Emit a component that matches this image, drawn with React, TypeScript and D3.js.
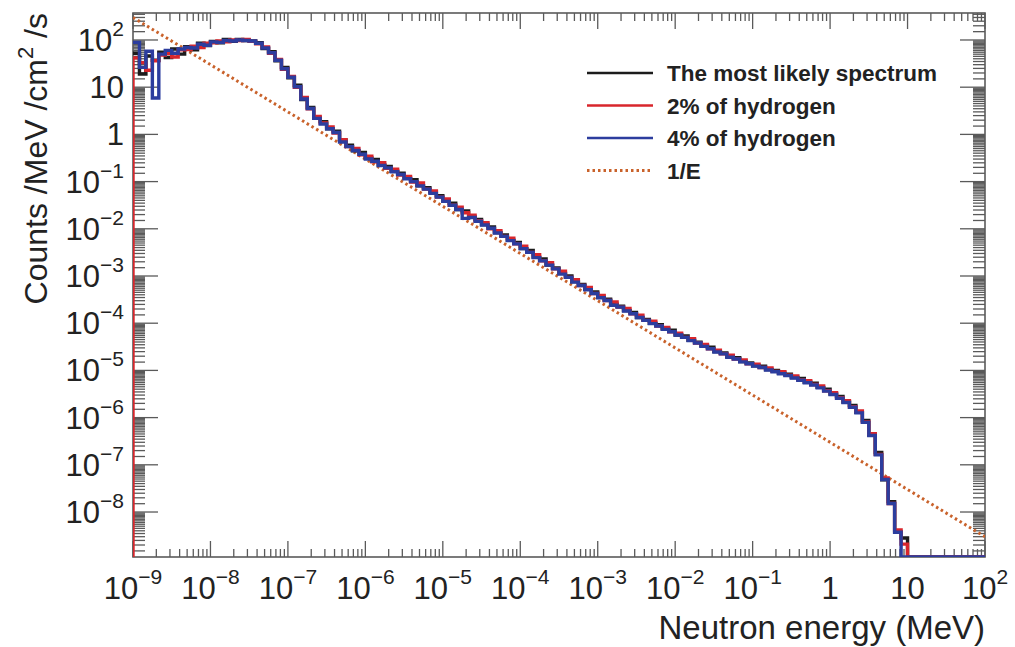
import React from 'react';
import * as d3 from 'd3';

// histogram: 12 log bins per decade starting at 1e-9 MeV, values given as log10(counts)
const BINS_PER_DECADE = 12;
const LOG_E_MIN = -9;
const LOG_E_MAX = 2;

const blackLog = [
  1.72, 1.28, 1.66, 1.57, 1.74, 1.63, 1.81, 1.70, 1.86, 1.79, 1.93, 1.88,
  1.97, 1.94, 2.01, 1.97, 2.01, 1.99, 1.98, 1.94, 1.82, 1.75, 1.56, 1.42,
  1.20, 1.04, 0.74, 0.57, 0.35, 0.27, 0.12, 0.07, -0.12, -0.23, -0.35, -0.38,
  -0.50, -0.53, -0.65, -0.68, -0.78, -0.82, -0.93, -0.96, -1.09, -1.13, -1.22, -1.30,
  -1.41, -1.46, -1.59, -1.62, -1.75, -1.80, -1.91, -1.96, -2.08, -2.13, -2.24, -2.29,
  -2.42, -2.46, -2.60, -2.64, -2.77, -2.83, -2.94, -3.00, -3.12, -3.18, -3.28, -3.34,
  -3.45, -3.49, -3.60, -3.64, -3.73, -3.77, -3.88, -3.92, -4.00, -4.03, -4.12, -4.15,
  -4.25, -4.27, -4.36, -4.40, -4.48, -4.51, -4.60, -4.63, -4.71, -4.73, -4.81, -4.84,
  -4.90, -4.91, -4.98, -5.00, -5.06, -5.08, -5.15, -5.17, -5.25, -5.27, -5.36, -5.40,
  -5.50, -5.55, -5.67, -5.74, -5.89, -6.06, -6.37, -6.74, -7.32, -7.78, -8.42, -8.55,
  null, null, null, null, null, null, null, null, null, null, null, null,
];

const redLog = [
  1.62, 1.52, 1.36, 1.56, 1.68, 1.71, 1.64, 1.79, 1.80, 1.87, 1.84, 1.93,
  1.94, 1.98, 1.96, 2.00, 1.99, 2.01, 1.97, 1.92, 1.85, 1.72, 1.59, 1.38,
  1.23, 1.00, 0.78, 0.54, 0.38, 0.24, 0.16, 0.03, -0.11, -0.26, -0.30, -0.43,
  -0.46, -0.58, -0.60, -0.72, -0.74, -0.86, -0.89, -1.01, -1.03, -1.16, -1.20, -1.33,
  -1.37, -1.50, -1.54, -1.66, -1.71, -1.83, -1.87, -2.00, -2.04, -2.16, -2.20, -2.32,
  -2.37, -2.50, -2.55, -2.68, -2.72, -2.85, -2.90, -3.03, -3.08, -3.20, -3.24, -3.37,
  -3.41, -3.52, -3.55, -3.66, -3.69, -3.80, -3.83, -3.94, -3.96, -4.06, -4.09, -4.18,
  -4.21, -4.30, -4.33, -4.42, -4.45, -4.54, -4.57, -4.65, -4.68, -4.76, -4.78, -4.86,
  -4.87, -4.94, -4.95, -5.02, -5.03, -5.10, -5.12, -5.20, -5.22, -5.30, -5.33, -5.43,
  -5.47, -5.58, -5.64, -5.77, -5.86, -6.09, -6.34, -6.78, -7.28, -7.82, -8.38, -8.68,
  null, null, null, null, null, null, null, null, null, null, null, null,
];

const blueLog = [
  1.95, 1.42, 1.76, 0.77, 1.70, 1.78, 1.72, 1.81, 1.84, 1.83, 1.91, 1.89,
  1.96, 1.95, 1.99, 1.98, 2.00, 1.99, 1.98, 1.93, 1.83, 1.73, 1.57, 1.39,
  1.21, 1.01, 0.75, 0.55, 0.34, 0.22, 0.12, 0.04, -0.16, -0.26, -0.34, -0.42,
  -0.52, -0.57, -0.66, -0.71, -0.79, -0.85, -0.94, -1.00, -1.09, -1.16, -1.25, -1.33,
  -1.42, -1.50, -1.59, -1.78, -1.76, -1.84, -1.92, -1.99, -2.09, -2.16, -2.25, -2.32,
  -2.42, -2.50, -2.61, -2.68, -2.77, -2.85, -2.96, -3.03, -3.13, -3.20, -3.29, -3.37,
  -3.46, -3.52, -3.62, -3.66, -3.74, -3.80, -3.88, -3.94, -4.01, -4.06, -4.13, -4.18,
  -4.25, -4.30, -4.37, -4.42, -4.49, -4.54, -4.61, -4.65, -4.72, -4.76, -4.82, -4.86,
  -4.91, -4.94, -4.99, -5.03, -5.07, -5.11, -5.16, -5.21, -5.26, -5.31, -5.37, -5.44,
  -5.51, -5.59, -5.68, -5.78, -5.90, -6.10, -6.38, -6.79, -7.31, -7.82, -8.43, null,
  null, null, null, null, null, null, null, null, null, null, null, null,
];

// 1/E reference line: norm / E
const oneOverENorm = 3e-7;
const oneOverEEnergies = [1e-9, 1e2];

const xDecades = [-9, -8, -7, -6, -5, -4, -3, -2, -1, 0, 1, 2];
const yDecades = [-8, -7, -6, -5, -4, -3, -2, -1, 0, 1, 2];

const legendItems = [
  { label: 'The most likely spectrum', color: '#1c1c1c', dotted: false },
  { label: '2% of hydrogen', color: '#d8262c', dotted: false },
  { label: '4% of hydrogen', color: '#2c3d9e', dotted: false },
  { label: '1/E', color: '#c9622b', dotted: true },
];

const FONT = "'Liberation Sans', Arial, Helvetica, sans-serif";

const W = 1015;
const H = 647;
const margin = { left: 133, right: 30, top: 13, bottom: 90 };
const plotW = W - margin.left - margin.right;
const plotH = H - margin.top - margin.bottom;

const x = d3.scaleLog().domain([1e-9, 1e2]).range([margin.left, margin.left + plotW]);
const y = d3
  .scaleLog()
  .domain([1.114e-9, 373])
  .range([margin.top + plotH, margin.top])
  .clamp(true);

const yBottom = margin.top + plotH;

function histPath(vals: (number | null)[], fromBottom: boolean) {
  const edge = (i: number) => Math.pow(10, LOG_E_MIN + i / BINS_PER_DECADE);
  const yv = (v: number | null) => (v === null ? yBottom : y(Math.pow(10, v)));
  let d = `M${x(edge(0))},${fromBottom ? yBottom : yv(vals[0])}`;
  vals.forEach((v, i) => {
    d += `V${yv(v)}H${x(edge(i + 1))}`;
  });
  return d;
}

function expLabel(p: number) {
  if (p === 0) return { base: '1', exp: '' };
  if (p === 1) return { base: '10', exp: '' };
  return { base: '10', exp: p < 0 ? `\u2212${-p}` : `${p}` };
}

const App = () => {
  const xMinor: number[] = [];
  d3.range(LOG_E_MIN, LOG_E_MAX).forEach((p) => {
    for (let k = 2; k <= 9; k++) xMinor.push(k * Math.pow(10, p));
  });
  const yMinor: number[] = [];
  d3.range(-9, 3).forEach((p) => {
    for (let k = 1.5; k < 10; k += 0.5) {
      const v = k * Math.pow(10, p);
      if (v > 1.114e-9 && v < 373) yMinor.push(v);
    }
  });

  const axisColor = '#5a5a5a';
  const textColor = '#222';
  const right = margin.left + plotW;

  const oneOverE = oneOverEEnergies.map((e) => [x(e), y(oneOverENorm / e)]);

  return (
    <svg
      width={W}
      height={H}
      style={{ position: 'absolute', left: 0, top: 0, background: '#fff' }}
      fontFamily={FONT}
    >
      <defs>
        <clipPath id="plot-clip">
          <rect x={margin.left} y={margin.top} width={plotW} height={plotH} />
        </clipPath>
      </defs>

      {/* ticks */}
      <g stroke={axisColor} strokeWidth={1.3}>
        {xMinor.map((v, i) => (
          <g key={'xm' + i}>
            <line x1={x(v)} x2={x(v)} y1={yBottom} y2={yBottom - 8} />
            <line x1={x(v)} x2={x(v)} y1={margin.top} y2={margin.top + 8} />
          </g>
        ))}
        {xDecades.map((p) => (
          <g key={'xM' + p}>
            <line x1={x(10 ** p)} x2={x(10 ** p)} y1={yBottom} y2={yBottom - 16} />
            <line x1={x(10 ** p)} x2={x(10 ** p)} y1={margin.top} y2={margin.top + 16} />
          </g>
        ))}
        {yMinor.map((v, i) => (
          <g key={'ym' + i}>
            <line x1={margin.left} x2={margin.left + 12} y1={y(v)} y2={y(v)} />
            <line x1={right} x2={right - 12} y1={y(v)} y2={y(v)} />
          </g>
        ))}
        {yDecades.map((p) => (
          <g key={'yM' + p}>
            <line x1={margin.left} x2={margin.left + 25} y1={y(10 ** p)} y2={y(10 ** p)} />
            <line x1={right} x2={right - 25} y1={y(10 ** p)} y2={y(10 ** p)} />
          </g>
        ))}
      </g>

      {/* frame */}
      <rect
        x={margin.left}
        y={margin.top}
        width={plotW}
        height={plotH}
        fill="none"
        stroke={axisColor}
        strokeWidth={1.6}
      />

      {/* data */}
      <g clipPath="url(#plot-clip)" fill="none" strokeLinejoin="miter">
        <path
          d={d3.line()(oneOverE as [number, number][]) || ''}
          stroke="#c9622b"
          strokeWidth={3}
          strokeDasharray="2.5,3"
        />
        <path d={histPath(blackLog, false)} stroke="#1c1c1c" strokeWidth={3.4} />
        <path d={histPath(redLog, true)} stroke="#d8262c" strokeWidth={3.4} />
        <path d={histPath(blueLog, false)} stroke="#2c3d9e" strokeWidth={3.4} />
      </g>

      {/* x tick labels */}
      {xDecades.map((p) => {
        const l = expLabel(p);
        return (
          <text
            key={'xl' + p}
            x={x(10 ** p)}
            y={599}
            textAnchor="middle"
            fontSize={31}
            fill={textColor}
          >
            {l.base}
            {l.exp && (
              <tspan dy={-15} fontSize={21}>
                {l.exp}
              </tspan>
            )}
          </text>
        );
      })}

      {/* y tick labels */}
      {yDecades.map((p) => {
        const l = expLabel(p);
        return (
          <text
            key={'yl' + p}
            x={124}
            y={y(10 ** p) + 11}
            textAnchor="end"
            fontSize={31}
            fill={textColor}
          >
            {l.base}
            {l.exp && (
              <tspan dy={-15} fontSize={21}>
                {l.exp}
              </tspan>
            )}
          </text>
        );
      })}

      {/* axis titles */}
      <text x={right} y={639} textAnchor="end" fontSize={33} fill={textColor}>
        Neutron energy (MeV)
      </text>
      <text
        transform={`translate(47,${margin.top}) rotate(-90)`}
        textAnchor="end"
        fontSize={32}
        fill={textColor}
      >
        Counts /MeV /cm
        <tspan dy={-14} fontSize={22}>
          2
        </tspan>
        <tspan dy={14}> /s</tspan>
      </text>

      {/* legend */}
      {legendItems.map((it, i) => {
        const ly = 73 + i * 32.5;
        return (
          <g key={it.label}>
            <line
              x1={587}
              x2={653}
              y1={ly}
              y2={ly}
              stroke={it.color}
              strokeWidth={it.dotted ? 3 : 2.4}
              strokeDasharray={it.dotted ? '2.5,3' : undefined}
            />
            <text x={667} y={ly + 8} fontSize={22.5} fontWeight="bold" fill={textColor}>
              {it.label}
            </text>
          </g>
        );
      })}
    </svg>
  );
};

export default App;
